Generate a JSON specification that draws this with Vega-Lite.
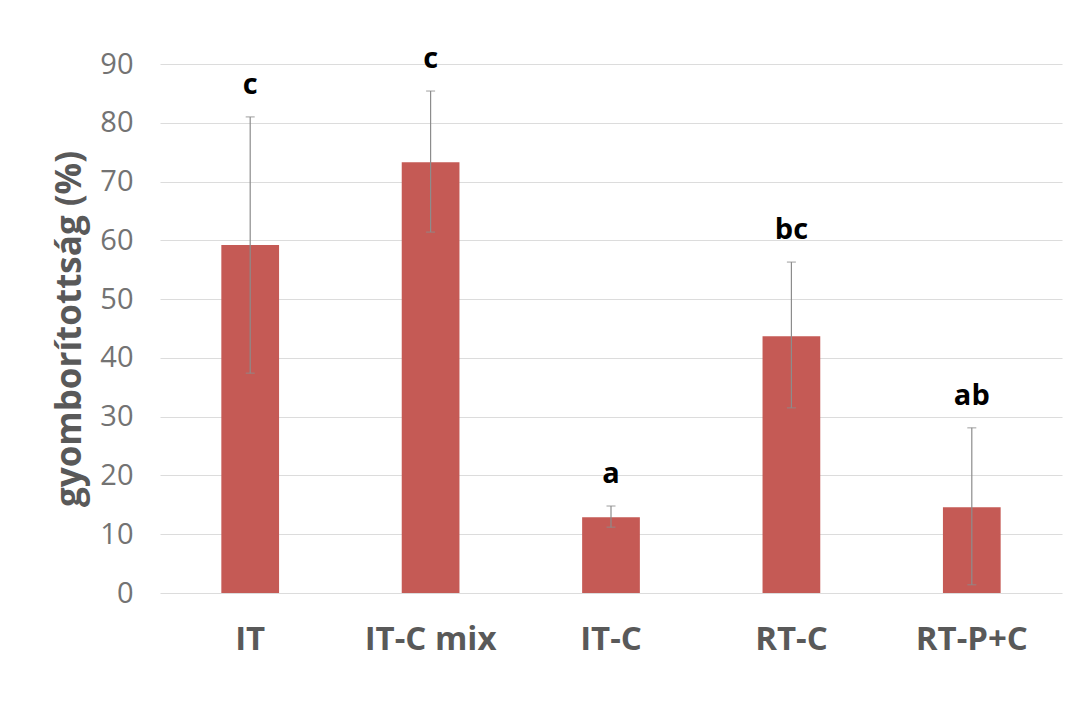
{
  "$schema": "https://vega.github.io/schema/vega-lite/v6.json",
  "width": 902,
  "height": 529,
  "autosize": {"type": "none"},
  "padding": {"left": 160, "top": 64, "right": 9, "bottom": 117},
  "background": "white",
  "config": {"view": {"stroke": null}, "font": "Open Sans"},
  "data": {"values": [
    {"treatment": "IT", "mean": 59.2, "lower": 37.4, "upper": 81.0, "letter": "c"},
    {"treatment": "IT-C mix", "mean": 73.3, "lower": 61.4, "upper": 85.4, "letter": "c"},
    {"treatment": "IT-C", "mean": 12.9, "lower": 11.2, "upper": 14.8, "letter": "a"},
    {"treatment": "RT-C", "mean": 43.7, "lower": 31.5, "upper": 56.3, "letter": "bc"},
    {"treatment": "RT-P+C", "mean": 14.6, "lower": 1.4, "upper": 28.1, "letter": "ab"}
  ]},
  "encoding": {
    "x": {"field": "treatment", "type": "nominal", "sort": null,
      "scale": {"paddingInner": 0.68, "paddingOuter": 0.34},
      "axis": {"title": null, "labelAngle": 0, "ticks": false, "domain": false,
        "labelFont": "Open Sans", "labelFontSize": 33, "labelFontWeight": "bold",
        "labelColor": "#595959", "labelPadding": 30, "grid": false}}
  },
  "layer": [
    {"mark": {"type": "bar", "color": "#c55a55"},
      "encoding": {"y": {"field": "mean", "type": "quantitative",
        "scale": {"domain": [0, 90]},
        "axis": {"values": [0,10,20,30,40,50,60,70,80,90], "title": "gyomborítottság (%)",
          "titleFontSize": 35, "titleFontWeight": "bold", "titleColor": "#595959", "titleFont": "Open Sans",
          "titlePadding": 12, "labelFont": "Open Sans", "labelFontSize": 29, "labelColor": "#737373", "labelPadding": 27,
          "ticks": false, "domain": false, "gridColor": "#dcdcdc", "gridWidth": 1.2}}}},
    {"mark": {"type": "rule", "color": "#8c8c8c", "strokeWidth": 1.2},
      "encoding": {"y": {"field": "lower", "type": "quantitative"}, "y2": {"field": "upper"}}},
    {"mark": {"type": "tick", "color": "#8c8c8c", "size": 9, "thickness": 1.2},
      "encoding": {"y": {"field": "lower", "type": "quantitative"}}},
    {"mark": {"type": "tick", "color": "#8c8c8c", "size": 9, "thickness": 1.2},
      "encoding": {"y": {"field": "upper", "type": "quantitative"}}},
    {"mark": {"type": "text", "baseline": "bottom", "dy": -17, "fontSize": 29, "fontWeight": "bold", "color": "black", "font": "Open Sans"},
      "encoding": {"y": {"field": "upper", "type": "quantitative"}, "text": {"field": "letter"}}}
  ]
}
